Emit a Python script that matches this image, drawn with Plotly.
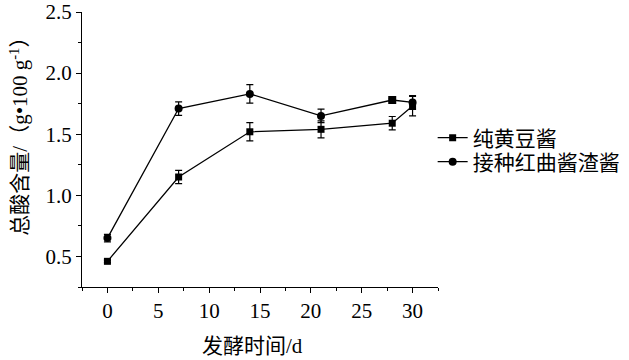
import plotly.graph_objects as go

days = [0, 7, 14, 21, 28, 30]
pure_soy = [0.46, 1.15, 1.52, 1.54, 1.59, 1.73]
pure_soy_err = [0.01, 0.055, 0.075, 0.07, 0.055, 0.08]
monascus = [0.65, 1.71, 1.83, 1.65, 1.78, 1.76]
monascus_err = [0.03, 0.055, 0.075, 0.055, 0.01, 0.057]
monascus_symbols = ["circle", "circle", "circle", "circle", "square", "circle"]
names = ["纯黄豆酱", "接种红曲酱渣酱"]
x_title = "发酵时间/d"
y_title = "总酸含量/（g•100 g<sup>-1</sup>）"

serif = "Liberation Serif"
cjk = "Liberation Serif, Noto Sans CJK SC"

fig = go.Figure()
fig.add_trace(go.Scatter(
    x=days, y=pure_soy, name=names[0], mode="lines+markers", legend="legend",
    line=dict(color="black", width=1.3),
    marker=dict(symbol="square", size=7, color="black"),
    error_y=dict(type="data", array=pure_soy_err, color="black", thickness=1.2, width=3.5),
))
fig.add_trace(go.Scatter(
    x=days, y=monascus, name=names[1], mode="lines+markers", legend="legend2",
    line=dict(color="black", width=1.3),
    marker=dict(symbol=monascus_symbols, size=8, color="black"),
    error_y=dict(type="data", array=monascus_err, color="black", thickness=1.2, width=3.5),
))

legend_style = dict(xanchor="left", yanchor="middle", font=dict(size=21, family=cjk, color="black"),
                    bgcolor="rgba(0,0,0,0)", itemwidth=30)

fig.update_layout(
    width=629, height=360,
    margin=dict(l=81.5, r=190.5, t=12, b=73, autoexpand=False),
    plot_bgcolor="white", paper_bgcolor="white",
    font=dict(family=serif, size=21, color="black"),
    showlegend=True,
    legend=dict(x=0.985, y=0.5418, **legend_style),
    legend2=dict(x=0.985, y=0.4545, **legend_style),
    xaxis=dict(
        range=[-2.5, 32.5], tick0=0, dtick=5, ticks="outside", ticklen=5, tickwidth=1,
        tickcolor="black", tickfont=dict(family=serif, size=21, color="black"),
        showline=True, linecolor="black", linewidth=1, showgrid=False, zeroline=False,
        automargin=False,
        minor=dict(dtick=2.5, tick0=0, ticks="outside", ticklen=3, tickcolor="black"),
    ),
    yaxis=dict(
        range=[0.25, 2.5], tick0=0.5, dtick=0.5, ticks="outside", ticklen=5, tickwidth=1,
        tickcolor="black", tickformat=".1f", tickfont=dict(family=serif, size=21, color="black"),
        showline=True, linecolor="black", linewidth=1, showgrid=False, zeroline=False,
        automargin=False,
        minor=dict(dtick=0.25, tick0=0.25, ticks="outside", ticklen=3, tickcolor="black"),
    ),
    annotations=[
        dict(text=x_title, xref="paper", yref="paper", x=0.48, y=-0.2145,
             xanchor="center", yanchor="middle", showarrow=False,
             font=dict(size=21, family=cjk, color="black")),
        dict(text=y_title, xref="paper", yref="paper", x=-0.178, y=0.567,
             xanchor="center", yanchor="middle", showarrow=False, textangle=-90,
             font=dict(size=21, family=cjk, color="black")),
    ],
)

fig.write_html("out.html", config={"displayModeBar": False},
               post_script="document.body.style.margin='0';")
